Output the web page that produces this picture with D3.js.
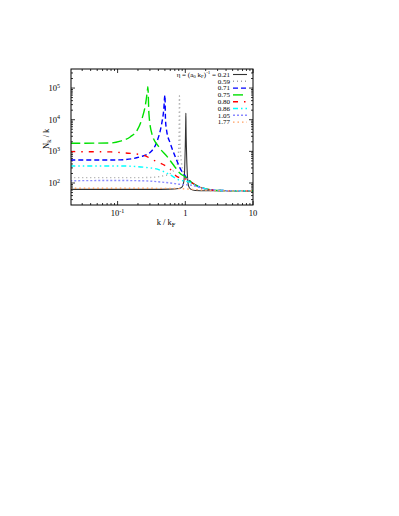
<!DOCTYPE html>
<html>
<head>
<meta charset="utf-8">
<script src="https://cdn.jsdelivr.net/npm/d3@7"></script>
<style>
  body { margin: 0; background: #fff; }
  text { font-family: "Liberation Serif", "DejaVu Serif", serif; font-size: 8.5px; fill: #000; }
</style>
</head>
<body>
<div id="chart"></div>
<script>
(function () {

  // eta values (legend) and readings of N_k / k against k / k_F
  var etas = ["0.21", "0.59", "0.71", "0.75", "0.80", "0.86", "1.05", "1.77"]

  var k021 = [0.02, 0.3, 0.6, 0.8, 0.9, 0.95, 0.98, 1.0, 1.015, 1.02, 1.025, 1.04, 1.07, 1.12, 1.2, 1.4, 2, 10]
  var n021 = [63, 63, 64, 67, 76, 110, 300, 1500, 9000, 16000, 6000, 1200, 200, 80, 64, 58, 57, 57]

  var k059 = [0.02, 0.2, 0.3, 0.45, 0.6, 0.7, 0.755, 0.79, 0.81, 0.82, 0.83, 0.84, 0.86, 0.9, 1.0, 1.1, 1.2, 1.4, 1.7, 2, 3, 10]
  var n059 = [148, 148, 150, 165, 200, 280, 370, 800, 4000, 56000, 5000, 1500, 700, 300, 170, 130, 110, 88, 72, 65, 58, 57]

  var k071 = [0.02, 0.08, 0.11, 0.22, 0.31, 0.38, 0.45, 0.48, 0.5, 0.51, 0.53, 0.6, 0.71, 0.84, 1.0, 1.1, 1.2, 1.4, 1.7, 2, 3, 10]
  var n071 = [535, 535, 540, 680, 970, 2000, 7900, 20000, 60000, 9800, 4500, 1800, 680, 290, 165, 130, 110, 88, 72, 65, 58, 57]

  var k075 = [0.02, 0.08, 0.11, 0.155, 0.195, 0.23, 0.258, 0.275, 0.28, 0.29, 0.32, 0.405, 0.54, 0.67, 0.84, 1.0, 1.1, 1.2, 1.4, 1.7, 2, 3, 10]
  var n075 = [1800, 1850, 2100, 2900, 4700, 11000, 30000, 80000, 110000, 16000, 3700, 1400, 680, 370, 200, 155, 130, 110, 88, 72, 65, 58, 57]

  var k080 = [0.02, 0.08, 0.12, 0.24, 0.32, 0.6, 0.755, 1.0, 1.1, 1.2, 1.4, 1.7, 2, 3, 10]
  var n080 = [980, 960, 900, 760, 560, 270, 160, 135, 125, 108, 88, 72, 65, 58, 57]

  var k086 = [0.02, 0.11, 0.34, 0.6, 0.8, 1.0, 1.1, 1.2, 1.4, 1.7, 2, 3, 10]
  var n086 = [345, 345, 290, 180, 125, 115, 110, 102, 86, 72, 65, 58, 57]

  var k105 = [0.02, 0.1, 0.22, 0.6, 0.84, 1.0, 1.2, 1.4, 1.7, 2, 3, 10]
  var n105 = [118, 120, 118, 100, 91, 88, 86, 80, 70, 64, 58, 57]

  var k177 = [0.02, 0.3, 0.7, 1.0, 1.4, 2, 3, 10]
  var n177 = [68, 68, 67, 65, 62, 59, 57, 57]

  var ks = [k021, k059, k071, k075, k080, k086, k105, k177]
  var ns = [n021, n059, n071, n075, n080, n086, n105, n177]

  var colors = ["#333333", "#a0a0a0", "#0000ff", "#00e000", "#ff0000", "#00ffff", "#8a8aff", "#ffa060"]
  var dashes = ["none", "1,3", "5,3", "10,4", "5,6,1.5,6", "5,3,1.5,3,1.5,3", "2,2", "1.5,3"]

  var xTicks = [0.1, 1, 10]
  var yTicks = [100, 1000, 10000, 100000]

  var margin = { top: 69, left: 71, right: 146, bottom: 311 },
      width = 399 - margin.left - margin.right,
      height = 516 - margin.top - margin.bottom

  var svg = d3.select("#chart")
      .append("svg")
      .attr("width", 399)
      .attr("height", 516)
      .append("g")
      .attr("transform", "translate(" + margin.left + "," + margin.top + ")")

  var xPositionScale = d3.scaleLog()
    .domain([0.0205, 10])
    .range([0, width])

  var yPositionScale = d3.scaleLog()
    .domain([20.2, 400000])
    .range([height, 0])

  svg.append("clipPath")
     .attr("id", "clip")
     .append("rect")
     .attr("width", width)
     .attr("height", height)

  // ticks, pointing inward on all four sides
  function minors(lo, hi) {
    var out = []
    for (var p = Math.floor(Math.log10(lo)); p <= Math.ceil(Math.log10(hi)); p++) {
      for (var m = 2; m <= 9; m++) {
        var v = m * Math.pow(10, p)
        if (v > lo && v < hi) out.push(v)
      }
    }
    return out
  }

  var xMinor = minors(0.0205, 10)
  var yMinor = minors(20.2, 400000)

  function tickLines(vals, len, isX) {
    vals.forEach(function (v) {
      if (isX) {
        var x = xPositionScale(v)
        svg.append("line").attr("x1", x).attr("x2", x).attr("y1", height).attr("y2", height - len)
        svg.append("line").attr("x1", x).attr("x2", x).attr("y1", 0).attr("y2", len)
      } else {
        var y = yPositionScale(v)
        svg.append("line").attr("y1", y).attr("y2", y).attr("x1", 0).attr("x2", len)
        svg.append("line").attr("y1", y).attr("y2", y).attr("x1", width).attr("x2", width - len)
      }
    })
  }

  tickLines(xTicks, 4, true)
  tickLines(xMinor, 2, true)
  tickLines(yTicks, 4, false)
  tickLines(yMinor, 2, false)
  svg.selectAll("line").attr("stroke", "#000").attr("stroke-width", 0.8)

  // tick labels
  var xl = svg.selectAll(".xlab")
     .data(xTicks)
     .enter().append("text")
     .attr("class", "xlab")
     .attr("x", function (d) { return xPositionScale(d) })
     .attr("y", height + 11)
     .attr("text-anchor", "middle")
  xl.each(function (d) {
    var t = d3.select(this)
    if (d === 0.1) {
      t.append("tspan").text("10")
      t.append("tspan").text("-1").attr("dy", -3.5).style("font-size", "6px")
    } else {
      t.text(d)
    }
  })

  var yl = svg.selectAll(".ylab")
     .data(yTicks)
     .enter().append("text")
     .attr("class", "ylab")
     .attr("x", -11)
     .attr("y", function (d) { return yPositionScale(d) + 3 })
     .attr("text-anchor", "end")
  yl.each(function (d) {
    var t = d3.select(this)
    t.append("tspan").text("10")
    t.append("tspan").text(Math.round(Math.log10(d))).attr("dy", -3.5).style("font-size", "6px")
  })

  // axis titles
  var xt = svg.append("text")
     .attr("x", 95)
     .attr("y", height + 20)
     .attr("text-anchor", "middle")
  xt.append("tspan").text("k / k")
  xt.append("tspan").text("F").attr("dy", 2).style("font-size", "6.5px")

  var yt = svg.append("text")
     .attr("transform", "translate(-22," + (yPositionScale(2500)) + ") rotate(-90)")
     .attr("text-anchor", "middle")
  yt.append("tspan").text("N")
  yt.append("tspan").text("k").attr("dy", 2).style("font-size", "6.5px")
  yt.append("tspan").text(" / k").attr("dy", -2)

  // curves
  var line = d3.line()
    .x(function (d) { return xPositionScale(d[0]) })
    .y(function (d) { return yPositionScale(d[1]) })
    .curve(d3.curveMonotoneX)

  var plot = svg.append("g").attr("clip-path", "url(#clip)")

  ks.forEach(function (kk, i) {
    var pts = kk.map(function (k, j) { return [k, ns[i][j]] })
    plot.append("path")
      .datum(pts)
      .attr("d", line)
      .attr("fill", "none")
      .attr("stroke", colors[i])
      .attr("stroke-width", i === 0 ? 1.1 : 1.4)
      .attr("stroke-dasharray", dashes[i])
  })

  // frame
  svg.append("rect")
     .attr("width", width)
     .attr("height", height)
     .attr("fill", "none")
     .attr("stroke", "#000")
     .attr("stroke-width", 1)

  // legend
  var legend = svg.append("g").attr("transform", "translate(" + (width - 21) + ",5.5)")
  etas.forEach(function (e, i) {
    var y = i * 6.8
    var t = legend.append("text")
       .attr("x", -2)
       .attr("y", y + 2.3)
       .attr("text-anchor", "end")
       .style("font-size", "7px")
    if (i === 0) {
      t.append("tspan").text("η = (a")
      t.append("tspan").text("0").attr("dy", 1.5).style("font-size", "5px")
      t.append("tspan").text(" k").attr("dy", -1.5)
      t.append("tspan").text("F").attr("dy", 1.5).style("font-size", "5px")
      t.append("tspan").text(")").attr("dy", -1.5)
      t.append("tspan").text("-1").attr("dy", -2.5).style("font-size", "5px")
      t.append("tspan").text(" = " + e).attr("dy", 2.5)
    } else {
      t.text(e)
    }
    legend.append("line")
       .attr("x1", 1)
       .attr("x2", 15)
       .attr("y1", y)
       .attr("y2", y)
       .attr("stroke", colors[i])
       .attr("stroke-width", i === 0 ? 1.1 : 1.4)
       .attr("stroke-dasharray", dashes[i])
  })

})()
</script>
</body>
</html>
